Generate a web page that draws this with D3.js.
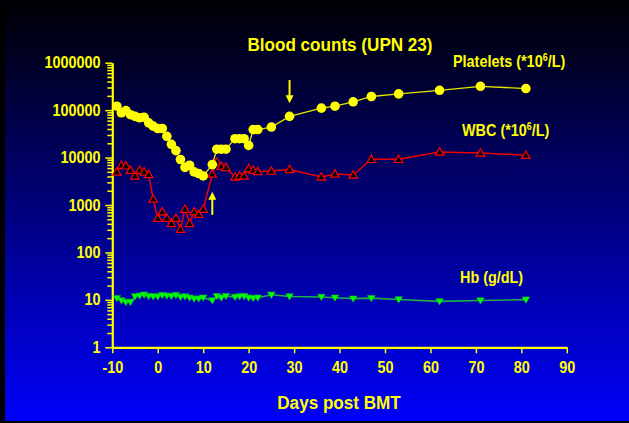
<!DOCTYPE html>
<html>
<head>
<meta charset="utf-8">
<script src="https://cdn.jsdelivr.net/npm/d3@7"></script>
<style>
  html, body { margin: 0; padding: 0; background: #000; }
  svg { display: block; }
  text { font-family: "Liberation Sans", Arial, sans-serif; font-weight: bold; fill: #ffff00; }
</style>
</head>
<body>
<svg id="chart" width="629" height="423"></svg>
<script>
// days after transplant, shared by all three series
let days = [-9, -8, -7, -6, -5, -4, -3, -2, -1, 0, 1, 2, 3, 4, 5, 6, 7, 8, 9, 10,
            12, 13, 14, 15, 17, 18, 19, 20, 21, 22, 25, 29, 36, 39, 43, 47, 53, 62, 71, 81];

let platelets = [121000, 88000, 98000, 80000, 74000, 69000, 71000, 54000, 46000, 41000,
                 41000, 28000, 19000, 14000, 9100, 6200, 6900, 5000, 4600, 4100,
                 7100, 15000, 15000, 15000, 25000, 25000, 25000, 18000, 39000, 39000,
                 44000, 74000, 110000, 121000, 150000, 194000, 220000, 262000, 318000, 285000];

let wbc = [5000, 6900, 6700, 5400, 4100, 5400, 5000, 4400, 1340, 530,
           720, 530, 410, 530, 310, 820, 410, 720, 640, 820,
           4500, 8100, 6600, 6200, 3900, 4100, 4100, 5900, 5400, 5100,
           5200, 5600, 3900, 4500, 4300, 9200, 9200, 13100, 12500, 11200];

let hb = [10.9, 9.7, 9.0, 9.0, 11.8, 12.2, 12.8, 12.0, 11.8, 11.8,
          12.6, 12.2, 12.0, 12.6, 11.5, 11.8, 11.1, 10.6, 10.6, 11.1,
          9.7, 12.0, 11.1, 12.0, 11.5, 11.8, 12.0, 11.1, 10.9, 11.1,
          12.8, 11.8, 11.5, 11.1, 10.6, 10.9, 10.2, 9.3, 9.7, 10.1];

let xTicks = [-10, 0, 10, 20, 30, 40, 50, 60, 70, 80, 90];
let yTicks = [1, 10, 100, 1000, 10000, 100000, 1000000];

// arrows: day, start value, tip value
let arrows = [
  { day: 29, from: 430000, to: 140000 },
  { day: 12, from: 620, to: 1900 }
];

let svg = d3.select("#chart");
let squeeze = "scale(0.9,1)";
let plain = function(d) { return String(d); };

let defs = svg.append("defs");
let grad = defs.append("linearGradient")
    .attr("id", "bg")
    .attr("gradientUnits", "userSpaceOnUse")
    .attr("x1", 0).attr("y1", 0).attr("x2", 0).attr("y2", 423);
grad.append("stop").attr("offset", 0).attr("stop-color", "#000002");
grad.append("stop").attr("offset", 0.5).attr("stop-color", "#00007e");
grad.append("stop").attr("offset", 1).attr("stop-color", "#0000fc");

svg.append("rect").attr("width", 629).attr("height", 423).attr("fill", "#000");
svg.append("rect").attr("x", 5).attr("width", 624).attr("height", 421).attr("fill", "url(#bg)");

let x = d3.scaleLinear().domain([-10, 90]).range([112.3, 566.8]);
let y = d3.scaleLog().domain([1, 1000000]).range([347.3, 62.7]);

// minor log ticks
let minor = [];
yTicks.slice(0, -1).forEach(function(d) {
  for (let k = 2; k < 10; k++) minor.push(d * k);
});

svg.append("g")
    .attr("transform", "translate(" + x(-10) + ",0)")
    .call(d3.axisLeft(y).tickValues(minor).tickSize(5).tickSizeOuter(0).tickFormat(""))
    .call(function(g) { g.select(".domain").remove(); });

svg.append("g")
    .attr("transform", "translate(" + x(-10) + ",0)")
    .call(d3.axisLeft(y).tickValues(yTicks).tickSize(7).tickSizeOuter(0).tickPadding(6)
      .tickFormat(plain));

svg.append("g")
    .attr("transform", "translate(0," + y(1) + ")")
    .call(d3.axisBottom(x).tickValues(xTicks).tickSize(6).tickSizeOuter(0).tickPadding(8)
      .tickFormat(plain));

svg.selectAll(".tick line").attr("stroke", "#ffff00").attr("stroke-width", 1.5);
svg.selectAll(".domain").attr("stroke", "#ffff00").attr("stroke-width", 2.2);
svg.selectAll(".tick text")
    .attr("fill", "#ffff00")
    .attr("font-family", null)
    .style("font-size", "16px")
    .attr("transform", squeeze);

// hemoglobin
svg.append("path")
    .datum(days)
    .attr("fill", "none")
    .attr("stroke", "#1fae48")
    .attr("stroke-width", 1.6)
    .attr("d", d3.line().x(function(d) { return x(d); }).y(function(d, i) { return y(hb[i]); }));

svg.selectAll(".hb")
    .data(days).enter().append("path")
    .attr("class", "hb")
    .attr("transform", function(d, i) { return "translate(" + x(d) + "," + y(hb[i]) + ")"; })
    .attr("d", "M-3.8,-2.7L3.8,-2.7L0,3.6Z")
    .attr("fill", "#00ff00")
    .attr("stroke", "#10b030")
    .attr("stroke-width", 0.6);

// white cells
svg.append("path")
    .datum(days)
    .attr("fill", "none")
    .attr("stroke", "#ee0000")
    .attr("stroke-width", 1.5)
    .attr("d", d3.line().x(function(d) { return x(d); }).y(function(d, i) { return y(wbc[i]); }));

svg.selectAll(".wbc")
    .data(days).enter().append("path")
    .attr("class", "wbc")
    .attr("transform", function(d, i) { return "translate(" + x(d) + "," + y(wbc[i]) + ")"; })
    .attr("d", "M0,-4.2L4.2,3.2L-4.2,3.2Z")
    .attr("fill", "url(#bg)")
    .attr("stroke", "#ff0000")
    .attr("stroke-width", 1.2);

// platelets
svg.append("path")
    .datum(days)
    .attr("fill", "none")
    .attr("stroke", "#e6e600")
    .attr("stroke-width", 1.3)
    .attr("d", d3.line().x(function(d) { return x(d); }).y(function(d, i) { return y(platelets[i]); }));

svg.selectAll(".plt")
    .data(days).enter().append("circle")
    .attr("class", "plt")
    .attr("cx", function(d) { return x(d); })
    .attr("cy", function(d, i) { return y(platelets[i]); })
    .attr("r", 4.8)
    .attr("fill", "#ffff00");

// arrows
arrows.forEach(function(a) {
  let ax = x(a.day), y0 = y(a.from), y1 = y(a.to);
  let dir = y1 > y0 ? 1 : -1;
  svg.append("line")
      .attr("x1", ax).attr("x2", ax)
      .attr("y1", y0).attr("y2", y1 - dir * 7)
      .attr("stroke", "#ffff00").attr("stroke-width", 2);
  svg.append("path")
      .attr("d", "M" + (ax - 4) + "," + (y1 - dir * 8) + "L" + (ax + 4) + "," + (y1 - dir * 8) + "L" + ax + "," + y1 + "Z")
      .attr("fill", "#ffff00");
});

function label(px, py, size, anchor, parts) {
  let t = svg.append("text")
      .attr("transform", "translate(" + px + "," + py + ") " + squeeze)
      .attr("text-anchor", anchor)
      .style("font-size", size + "px");
  parts.forEach(function(p) {
    if (p.sup) {
      t.append("tspan").attr("dy", -6).style("font-size", "10px").text(p.sup);
    } else {
      t.append("tspan").attr("dy", p.after ? 6 : 0).text(p.text);
    }
  });
}

label(340, 51, 19, "middle", [{ text: "Blood counts (UPN 23)" }]);
label(339, 409, 19, "middle", [{ text: "Days post BMT" }]);
label(453, 67, 16, "start", [{ text: "Platelets (*10" }, { sup: "6" }, { text: "/L)", after: true }]);
label(462, 136, 16, "start", [{ text: "WBC (*10" }, { sup: "6" }, { text: "/L)", after: true }]);
label(460, 283, 16, "start", [{ text: "Hb (g/dL)" }]);
</script>
</body>
</html>
